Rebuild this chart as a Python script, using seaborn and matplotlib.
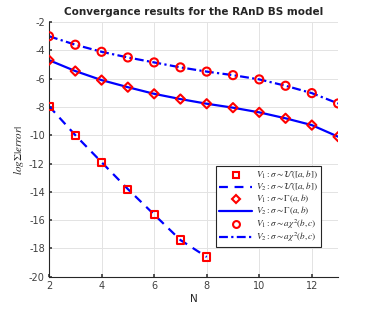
import numpy as np
import pandas as pd
import seaborn as sns
import matplotlib.pyplot as plt
from matplotlib.lines import Line2D

# values
n_unif = [2, 3, 4, 5, 6, 7, 8]
err_unif = [-7.94, -9.99, -11.9, -13.8, -15.6, -17.4, -18.6]

n_gamma = [2, 3, 4, 5, 6, 7, 8, 9, 10, 11, 12, 13]
err_gamma = [-4.69, -5.46, -6.1, -6.6, -7.07, -7.44, -7.77, -8.05, -8.38, -8.8, -9.28, -10.1]

n_chi2 = [2, 3, 4, 5, 6, 7, 8, 9, 10, 11, 12, 13]
err_chi2 = [-3.0, -3.6, -4.1, -4.5, -4.85, -5.2, -5.5, -5.75, -6.05, -6.5, -7.02, -7.75]

labels = [
    r'$V_1 : \sigma \sim \mathcal{U}([a,b])$',
    r'$V_2 : \sigma \sim \mathcal{U}([a,b])$',
    r'$V_1 : \sigma \sim \Gamma(a,b)$',
    r'$V_2 : \sigma \sim \Gamma(a,b)$',
    r'$V_1 : \sigma \sim a\chi^2(b,c)$',
    r'$V_2 : \sigma \sim a\chi^2(b,c)$',
]

sns.set_theme(style='whitegrid')
plt.rcParams['font.family'] = ['DejaVu Sans']
plt.rcParams['mathtext.fontset'] = 'stix'
plt.rcParams['axes.unicode_minus'] = False

fig = plt.figure(figsize=(3.74, 3.11), dpi=100)
ax = fig.add_axes([0.131, 0.110, 0.773, 0.819])

red = '#ff0000'
blue = '#0000ff'

series = [
    (n_unif, err_unif, 's', 26, (0, (4, 3))),
    (n_gamma, err_gamma, 'D', 22, '-'),
    (n_chi2, err_chi2, 'o', 34, (0, (4, 1.5, 1, 1.5))),
]

handles = []
for xs, ys, mk, sz, ls in series:
    df = pd.DataFrame({'N': xs, 'err': ys})
    sns.lineplot(data=df, x='N', y='err', ax=ax, color=blue, linewidth=1.6,
                 linestyle=ls, zorder=2)
    sns.scatterplot(data=df, x='N', y='err', ax=ax, marker=mk, s=sz,
                    facecolor='none', edgecolor=red, linewidth=1.5, zorder=3)
    handles.append(Line2D([], [], marker=mk, color=red, linestyle='none',
                          markerfacecolor='none', markeredgewidth=1.5,
                          markersize=np.sqrt(sz) * 0.85))
    handles.append(Line2D([], [], color=blue, linewidth=1.6, linestyle=ls))

ax.set_xlim(2, 13)
ax.set_ylim(-20, -2)
ax.set_xticks([2, 4, 6, 8, 10, 12])
ax.set_yticks(np.arange(-20, -1, 2))
ax.tick_params(labelsize=7, colors='#404040', length=2, direction='in',
               bottom=True, left=True, pad=3)
ax.grid(True, color='#e3e3e3', linewidth=0.7)
for side in ['top', 'right']:
    ax.spines[side].set_visible(False)
for side in ['left', 'bottom']:
    ax.spines[side].set_color('#262626')
    ax.spines[side].set_linewidth(0.8)

ax.set_title('Convergance results for the RAnD BS model', fontsize=7.5,
             fontweight='bold', pad=5)
ax.set_xlabel('N', fontsize=7.5, color='#262626', labelpad=2)
ax.set_ylabel(r'$log\Sigma|error|$', fontsize=8, color='#262626', labelpad=2)

leg = ax.legend(handles, labels, loc='upper left',
                bbox_to_anchor=(0.578, 0.435), fontsize=6.6, frameon=True,
                fancybox=False, edgecolor='#262626', framealpha=1,
                handlelength=3.6, handletextpad=0.4, labelspacing=0.0,
                borderpad=0.35, borderaxespad=0)
leg.get_frame().set_linewidth(0.8)

fig.savefig('out.png', dpi=100)
